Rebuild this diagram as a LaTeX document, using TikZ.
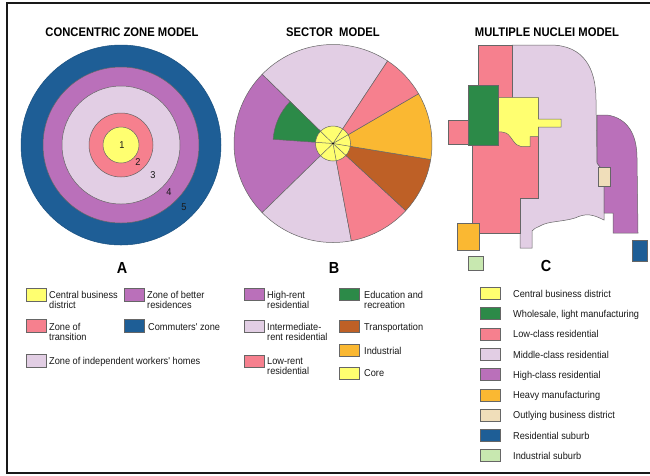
\documentclass[tikz,border=0pt]{standalone}
\usepackage{fontspec}
\newfontfamily\titlefont[FakeStretch=0.9]{Liberation Sans}
\newfontfamily\legfont[FakeStretch=0.92]{Liberation Sans}
\definecolor{cyel}{RGB}{255,255,112}
\definecolor{cpink}{RGB}{246,128,142}
\definecolor{clight}{RGB}{226,206,228}
\definecolor{cpurp}{RGB}{186,112,186}
\definecolor{cblue}{RGB}{30,94,150}
\definecolor{cgreen}{RGB}{44,138,72}
\definecolor{cbrown}{RGB}{190,96,38}
\definecolor{corange}{RGB}{250,184,50}
\definecolor{cbeige}{RGB}{240,222,186}
\definecolor{clgreen}{RGB}{200,232,176}
\tikzset{
  outl/.style={draw=black!60, line width=0.5pt},
  sw/.style={outl, inner sep=0pt, minimum width=20pt, minimum height=13pt},
  swc/.style={outl, inner sep=0pt, minimum width=20pt, minimum height=12pt},
  legtwo/.style={font=\legfont\fontsize{10}{10.5}\selectfont, inner sep=0pt, anchor=north west, align=left, text=black!90},
  legone/.style={font=\legfont\fontsize{10}{10.5}\selectfont, inner sep=0pt, anchor=base west, text=black!90},
  ttl/.style={font=\titlefont\bfseries\fontsize{12.5}{14}\selectfont, inner sep=0pt},
  letter/.style={font=\titlefont\bfseries\fontsize{16}{18}\selectfont, inner sep=0pt},
  num/.style={font=\legfont\fontsize{10}{12}\selectfont, inner sep=0pt, text=black!90}
}
\begin{document}
\begin{tikzpicture}[x=1pt,y=-1pt]
\useasboundingbox (0,0) rectangle (650,475);
\fill[white] (0,0) rectangle (650,475);
\draw[line width=2pt, black!90] (650,3) -- (7,3) -- (7,473) -- (650,473);

% ---------- Concentric zone model ----------
\node[ttl] (tA) at (122,32) {CONCENTRIC ZONE MODEL};
\coordinate (cc) at (121,145);
\filldraw[fill=cblue, draw=cblue!85!black, line width=0.5pt] (cc) circle[radius=100];
\filldraw[outl, fill=cpurp] (cc) circle[radius=78];
\filldraw[outl, fill=clight] (cc) circle[radius=59];
\filldraw[outl, fill=cpink] (cc) circle[radius=32];
\filldraw[outl, fill=cyel] (cc) circle[radius=18];
\node[num] (n1) at (122,145) {1};
\node[num] (n2) at (138,162) {2};
\node[num] (n3) at (153,175) {3};
\node[num] (n4) at (169,192) {4};
\node[num] (n5) at (184,207) {5};
\node[letter] (lA) at (122,268) {A};

% ---------- Sector model ----------
\node[ttl] (tB) at (333,32) {SECTOR\ \ MODEL};
\coordinate (sc) at (333,143.5);
\foreach \a/\b/\c in {56.5/135.7/clight, 135.7/224.3/cpurp, 224.3/280.7/clight,
  280.7/317.3/cpink, 317.3/350.7/cbrown, 350.7/390.2/corange, 390.2/416.5/cpink}
  \filldraw[outl, fill=\c] (sc) -- ++(-\a:99) arc[start angle=-\a, end angle=-\b, radius=99] -- cycle;
\filldraw[outl, fill=cgreen] (sc) -- ++(-135.7:60) arc[start angle=-135.7, end angle=-176, radius=60] -- cycle;
\filldraw[outl, fill=cyel] (sc) circle[radius=17.5];
\foreach \a in {56.5,135.7,176,224.3,280.7,317.3,350.7,30.2}
  \draw[outl] (sc) -- ++(-\a:17.5);
\fill[black] (sc) circle[radius=0.8];
\node[letter] (lB) at (334,268) {B};

% ---------- Multiple nuclei model ----------
\node[ttl] (tC) at (547,32) {MULTIPLE NUCLEI MODEL};
\filldraw[outl, fill=clight] (512,45) -- (550,45) .. controls (585,45) and (596,70) .. (596,100)
  -- (597,163) -- (604,172) -- (604,220)
  .. controls (592,214) and (586,213) .. (575,218)
  .. controls (562,222) and (548,221) .. (540,226)
  .. controls (536,228) and (533,229) .. (532,231) -- (532,248) -- (520,248) -- (520,198)
  -- (538,198) -- (538,98) -- (512,98) -- cycle;
\filldraw[outl, fill=cpurp] (597,115) -- (607,115) .. controls (628,118) and (637,135) .. (637,158)
  -- (638,233) -- (613,233) -- (613,213) -- (604,213) -- (604,172) -- (597,163) -- cycle;
\filldraw[outl, fill=cpink] (478,45) -- (512,45) -- (512,98) -- (538,98) -- (538,198) -- (520,198)
  -- (520,233) -- (472,233) -- (472,145) -- (478,145) -- cycle;
\filldraw[outl, fill=cpink] (448,120) rectangle (468,144);
\filldraw[outl, fill=cyel] (498.3,97.3) -- (538.3,97.3) -- (538.3,119) -- (561,119) -- (561,127)
  -- (538.3,127) -- (538.3,136.5) -- (530,136.5) -- (530,146.5) -- (521,146.5)
  .. controls (514,146) and (512,136) .. (506,133) .. controls (503,132) and (500,131.7) .. (498.3,131.7) -- cycle;
\filldraw[outl, fill=cgreen] (468,85) rectangle (498,145);
\filldraw[outl, fill=cbeige] (598,167) rectangle (610,186);
\filldraw[outl, fill=corange] (457,223) rectangle (479,250);
\filldraw[outl, fill=clgreen] (468,256) rectangle (483,270);
\filldraw[outl, fill=cblue] (632,240) rectangle (647,261);
\node[letter] (lC) at (546,266) {C};

% ---------- Legend A ----------
\node[sw, fill=cyel] (sA1) at (36,294.5) {};
\node[legtwo] (tA1) at (49,291) {Central business\\district};
\node[sw, fill=cpurp] (sA2) at (134,294.5) {};
\node[legtwo] (tA2) at (147,291) {Zone of better\\residences};
\node[sw, fill=cpink] (sA3) at (36,326) {};
\node[legtwo] (tA3) at (49,323) {Zone of\\transition};
\node[sw, fill=cblue] (sA4) at (134,326) {};
\node[legone] (tA4) at (148,330.5) {Commuters' zone};
\node[sw, fill=clight] (sA5) at (36,361) {};
\node[legone] (tA5) at (49,364.5) {Zone of independent workers' homes};

% ---------- Legend B ----------
\node[swc, fill=cpurp] (sB1) at (254.5,294) {};
\node[legtwo] (tB1) at (267,291) {High-rent\\residential};
\node[swc, fill=clight] (sB2) at (254.5,326) {};
\node[legtwo] (tB2) at (267,323) {Intermediate-\\rent residential};
\node[swc, fill=cpink] (sB3) at (254.5,361) {};
\node[legtwo] (tB3) at (267,357) {Low-rent\\residential};
\node[swc, fill=cgreen] (sB4) at (349.5,294) {};
\node[legtwo] (tB4) at (364,291) {Education and\\recreation};
\node[swc, fill=cbrown] (sB5) at (349.5,326) {};
\node[legone] (tB5) at (364,330.5) {Transportation};
\node[swc, fill=corange] (sB6) at (349.5,350) {};
\node[legone] (tB6) at (364,354) {Industrial};
\node[swc, fill=cyel] (sB7) at (349.5,373) {};
\node[legone] (tB7) at (364,376.5) {Core};

% ---------- Legend C ----------
\foreach \i/\c/\t in {0/cyel/Central business district, 1/cgreen/{Wholesale, light manufacturing},
  2/cpink/Low-class residential, 3/clight/Middle-class residential, 4/cpurp/High-class residential,
  5/corange/Heavy manufacturing, 6/cbeige/Outlying business district, 7/cblue/Residential suburb,
  8/clgreen/Industrial suburb}{
  \node[swc, fill=\c] (sC\i) at (490,293.3+20.3*\i) {};
  \node[legone] (tC\i) at (513,297.1+20.3*\i) {\t};
}
\end{tikzpicture}
\end{document}
